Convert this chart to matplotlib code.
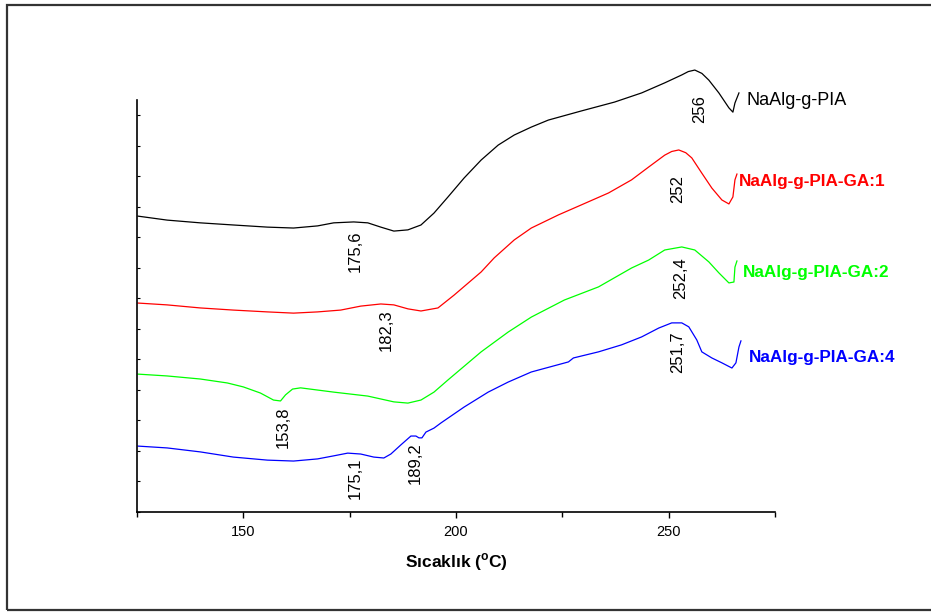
import matplotlib
matplotlib.use("Agg")
from matplotlib import pyplot as plt
from matplotlib.patches import Rectangle

plt.rcParams['font.family'] = ['Liberation Sans', 'DejaVu Sans']
plt.rcParams['mathtext.fontset'] = 'custom'
plt.rcParams['mathtext.rm'] = 'Liberation Sans'
plt.rcParams['mathtext.bf'] = 'Liberation Sans:bold'

# DSC curves (temperature, offset heat flow)
t_pia = [125.24, 132.08, 139.86, 147.64, 155.66, 161.79, 167.45, 171.23, 175.94, 179.25,
         182.31, 185.38, 188.68, 191.75, 194.81, 198.11, 201.89, 205.90, 209.91, 213.68,
         217.69, 221.70, 229.48, 237.26, 243.63, 249.06, 253.07, 254.60, 256.13, 257.80,
         259.43, 261.79, 264.15, 265.09, 265.57, 266.51]
h_pia = [9.70, 9.57, 9.48, 9.41, 9.34, 9.31, 9.38, 9.48, 9.51, 9.48,
         9.34, 9.21, 9.25, 9.41, 9.80, 10.33, 10.95, 11.54, 12.03, 12.36,
         12.62, 12.85, 13.15, 13.44, 13.74, 14.07, 14.33, 14.44, 14.49, 14.38,
         14.16, 13.74, 13.25, 13.11, 13.41, 13.74]

t_ga1 = [125.24, 132.08, 139.86, 147.64, 155.66, 161.79, 167.45, 172.88, 177.59, 182.31,
         185.38, 188.68, 191.75, 195.75, 199.53, 205.90, 208.96, 213.68, 217.69, 224.06,
         229.48, 235.85, 241.27, 245.28, 249.06, 250.70, 252.36, 254.00, 255.42, 257.78,
         260.14, 262.50, 264.15, 265.09, 265.57, 266.04]
h_ga1 = [6.85, 6.79, 6.69, 6.62, 6.56, 6.52, 6.56, 6.62, 6.75, 6.82,
         6.79, 6.66, 6.59, 6.69, 7.11, 7.87, 8.33, 8.92, 9.31, 9.74,
         10.07, 10.46, 10.89, 11.31, 11.70, 11.82, 11.87, 11.78, 11.61, 11.11,
         10.62, 10.23, 10.10, 10.33, 10.89, 11.08]

t_ga2 = [125.24, 132.08, 139.86, 146.23, 150.00, 154.01, 157.08, 158.73, 159.91, 161.56,
         163.44, 171.23, 179.25, 185.38, 188.68, 191.75, 194.81, 198.11, 205.90, 212.26,
         217.69, 225.47, 233.49, 241.27, 245.28, 249.06, 253.07, 256.13, 259.43, 261.79,
         264.15, 265.33, 265.57, 266.04]
h_ga2 = [4.52, 4.46, 4.36, 4.23, 4.10, 3.90, 3.67, 3.64, 3.84, 4.03,
         4.07, 3.93, 3.80, 3.61, 3.57, 3.67, 3.93, 4.33, 5.25, 5.90,
         6.39, 6.95, 7.38, 8.00, 8.26, 8.59, 8.69, 8.59, 8.20, 7.84,
         7.51, 7.54, 8.03, 8.23]

t_ga4 = [125.24, 132.08, 139.86, 147.64, 155.66, 161.79, 167.45, 171.23, 174.53, 177.59,
         180.66, 183.02, 184.67, 187.03, 189.39, 190.57, 191.27, 191.98, 192.92, 194.81,
         196.46, 201.89, 207.55, 212.26, 217.69, 226.42, 227.59, 233.49, 238.92, 243.63,
         247.64, 250.71, 253.07, 254.72, 256.60, 257.78, 260.14, 262.50, 264.86, 265.80,
         266.51, 266.98]
h_ga4 = [2.16, 2.10, 1.97, 1.80, 1.70, 1.67, 1.74, 1.84, 1.93, 1.90,
         1.80, 1.77, 1.90, 2.20, 2.49, 2.49, 2.43, 2.43, 2.62, 2.75,
         2.92, 3.44, 3.93, 4.26, 4.59, 4.92, 5.05, 5.25, 5.48, 5.74,
         6.03, 6.20, 6.20, 6.07, 5.64, 5.25, 5.05, 4.89, 4.72, 4.89,
         5.41, 5.61]

names = ['NaAlg-g-PIA', 'NaAlg-g-PIA-GA:1', 'NaAlg-g-PIA-GA:2', 'NaAlg-g-PIA-GA:4']
colors = ['black', '#ff0000', '#00ff00', '#0000ff']

# peak temperature labels: (text, x, y)
peak_labels = [('175,6', 176.4, 8.56), ('256', 257.3, 13.21),
               ('182,3', 183.5, 5.97), ('252', 252.1, 10.59),
               ('153,8', 159.4, 2.79), ('252,4', 252.8, 7.67),
               ('175,1', 176.2, 1.11), ('189,2', 190.3, 1.61), ('251,7', 252.1, 5.25)]
name_pos = [(268.2, 13.48), (266.6, 10.82), (267.4, 7.84), (268.8, 5.08)]

fig = plt.figure(figsize=(9.31, 6.13), dpi=100)
ax = fig.add_axes([0.1472, 0.1648, 0.6853, 0.7463])

curves = [(t_pia, h_pia), (t_ga1, h_ga1), (t_ga2, h_ga2), (t_ga4, h_ga4)]
for (t, h), c in zip(curves, colors):
    ax.plot(t, h, color=c, lw=0.9)

for txt, x, y in peak_labels:
    ax.text(x, y, txt, rotation=90, ha='center', va='center', fontsize=12)

for i, (nm, (x, y)) in enumerate(zip(names, name_pos)):
    ax.text(x, y, nm, color=colors[i], ha='left', va='center',
            fontsize=13 if i == 0 else 12.3,
            fontweight='normal' if i == 0 else 'bold')

ax.set_xlim(125, 275)
ax.set_ylim(0, 15)
ax.set_xticks([150, 200, 250])
ax.set_xticks([125, 175, 225, 275], minor=True)
ax.set_yticks(range(0, 14))
ax.set_yticklabels([])
ax.tick_params(axis='x', which='major', direction='out', length=4.5, width=1, labelsize=10.5, pad=5)
ax.tick_params(axis='x', which='minor', direction='out', length=3.5, width=1)
ax.tick_params(axis='y', direction='in', length=2, width=0.8)
ax.spines['top'].set_visible(False)
ax.spines['right'].set_visible(False)
ax.spines['left'].set_bounds(0, 13.5)
ax.spines['left'].set_linewidth(1.2)
ax.spines['bottom'].set_linewidth(1.2)
ax.set_xlabel(r'Sıcaklık ($^{\mathbf{o}}$C)', fontsize=12.5, fontweight='bold', labelpad=9)

# outer frame around the figure
fig.patches.append(Rectangle((7 / 931, 3 / 613), 1.0, 605 / 613, transform=fig.transFigure,
                             fill=False, edgecolor='#333333', lw=1.6))

fig.savefig('out.png', dpi=100)
